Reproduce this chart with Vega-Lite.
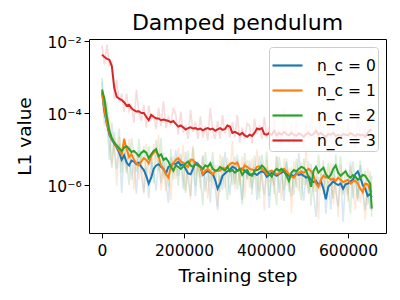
{
"$schema": "https://vega.github.io/schema/vega-lite/v6.json",
"width": 297, "height": 194,
"autosize": "none",
"padding": {"left": 89, "top": 39, "right": 14, "bottom": 67},
"config": {"font": "DejaVu Sans", "view": {"stroke": "black", "strokeWidth": 1}},
"title": {"text": "Damped pendulum", "fontSize": 22, "fontWeight": "normal", "color": "black", "offset": 1},
"datasets": {"rows": [
{"x":0,"s0":3.8e-4,"s1":4.0e-4,"s2":4.5e-4,"s3":4.2e-3,"r0":9.5e-4,"r1":1.2e-4,"r2":7.2e-4,"r3":7.6e-3},
{"x":6000,"s0":1.1e-4,"s1":1.26e-4,"s2":2.5e-4,"s3":3.6e-3,"r0":4.4e-5,"r1":2.5e-4,"r2":7.5e-5,"r3":2.2e-3},
{"x":12000,"s0":5.0e-5,"s1":5.2e-5,"s2":7.9e-5,"s3":3.2e-3,"r0":7.5e-5,"r1":3.1e-5,"r2":2.1e-4,"r3":8.0e-3},
{"x":18000,"s0":2.5e-5,"s1":2.8e-5,"s2":3.2e-5,"s3":3.0e-3,"r0":5.0e-6,"r1":8.4e-5,"r2":1.6e-5,"r3":2.1e-3},
{"x":24000,"s0":1.8e-5,"s1":1.9e-5,"s2":2.0e-5,"s3":2.0e-3,"r0":5.4e-5,"r1":3.8e-6,"r2":3.0e-6,"r3":2.6e-3},
{"x":30000,"s0":1.4e-5,"s1":1.5e-5,"s2":1.5e-5,"s3":5.0e-4,"r0":8.4e-6,"r1":2.1e-5,"r2":3.0e-5,"r3":2.5e-4},
{"x":36000,"s0":1.1e-5,"s1":1.2e-5,"s2":1.26e-5,"s3":2.8e-4,"r0":2.8e-6,"r1":9.6e-7,"r2":8.8e-6,"r3":8.4e-4},
{"x":42000,"s0":7.9e-6,"s1":8.9e-6,"s2":1.05e-5,"s3":2.5e-4,"r0":1.4e-5,"r1":2.2e-5,"r2":3.7e-5,"r3":2.0e-4},
{"x":48000,"s0":5.0e-6,"s1":7.1e-6,"s2":8.9e-6,"s3":2.3e-4,"r0":6.0e-7,"r1":3.6e-6,"r2":2.2e-6,"r3":3.5e-4},
{"x":54000,"s0":6.6e-6,"s1":1.9e-5,"s2":1.1e-5,"s3":2.0e-4,"r0":7.9e-6,"r1":2.1e-5,"r2":1.3e-5,"r3":1.1e-4},
{"x":60000,"s0":4.2e-6,"s1":1.0e-5,"s2":1.2e-5,"s3":1.6e-4,"r0":2.1e-6,"r1":2.5e-6,"r2":4.8e-6,"r3":3.5e-4},
{"x":66000,"s0":3.5e-6,"s1":6.0e-6,"s2":1.0e-5,"s3":1.7e-4,"r0":1.2e-5,"r1":1.9e-5,"r2":1.0e-6,"r3":1.1e-4},
{"x":72000,"s0":4.8e-6,"s1":7.1e-6,"s2":8.3e-6,"s3":1.35e-4,"r0":1.4e-6,"r1":5.0e-6,"r2":2.0e-5,"r3":1.6e-4},
{"x":78000,"s0":4.5e-6,"s1":5.0e-6,"s2":8.9e-6,"s3":1.2e-4,"r0":4.5e-6,"r1":7.5e-7,"r2":7.1e-6,"r3":5.4e-5},
{"x":84000,"s0":3.8e-6,"s1":4.0e-6,"s2":7.6e-6,"s3":1.1e-4,"r0":5.7e-7,"r1":8.0e-6,"r2":2.3e-6,"r3":4.4e-4},
{"x":90000,"s0":4.2e-6,"s1":3.5e-6,"s2":6.3e-6,"s3":1.12e-4,"r0":9.2e-6,"r1":1.4e-6,"r2":1.9e-5,"r3":1.0e-4},
{"x":96000,"s0":3.2e-6,"s1":4.5e-6,"s2":7.9e-6,"s3":1.0e-4,"r0":1.9e-6,"r1":6.8e-6,"r2":4.0e-6,"r3":6.0e-5},
{"x":102000,"s0":2.6e-6,"s1":5.6e-6,"s2":8.9e-6,"s3":1.0e-4,"r0":6.5e-7,"r1":5.6e-7,"r2":1.2e-5,"r3":1.7e-4},
{"x":108000,"s0":1.8e-6,"s1":5.0e-6,"s2":7.9e-6,"s3":7.9e-5,"r0":2.9e-6,"r1":1.4e-5,"r2":1.6e-6,"r3":4.0e-5},
{"x":114000,"s0":1.1e-6,"s1":4.0e-6,"s2":5.6e-6,"s3":6.3e-5,"r0":4.4e-7,"r1":2.4e-6,"r2":1.2e-5,"r3":1.6e-4},
{"x":120000,"s0":1.6e-6,"s1":6.3e-6,"s2":7.1e-6,"s3":8.9e-5,"r0":6.4e-6,"r1":1.9e-6,"r2":4.3e-6,"r3":6.7e-5},
{"x":126000,"s0":2.8e-6,"s1":7.9e-6,"s2":8.9e-6,"s3":7.9e-5,"r0":2.2e-6,"r1":1.4e-5,"r2":1.1e-6,"r3":8.7e-5},
{"x":132000,"s0":3.5e-6,"s1":8.9e-6,"s2":1.0e-5,"s3":7.1e-5,"r0":7.0e-7,"r1":4.0e-6,"r2":1.8e-5,"r3":3.6e-5},
{"x":138000,"s0":3.8e-6,"s1":6.3e-6,"s2":6.3e-6,"s3":7.1e-5,"r0":4.9e-6,"r1":2.5e-5,"r2":2.5e-6,"r3":1.4e-4},
{"x":144000,"s0":3.2e-6,"s1":3.5e-6,"s2":7.1e-6,"s3":6.3e-5,"r0":1.1e-6,"r1":7.0e-7,"r2":2.0e-5,"r3":4.4e-5},
{"x":150000,"s0":2.8e-6,"s1":2.8e-6,"s2":5.0e-6,"s3":6.6e-5,"r0":7.8e-6,"r1":3.4e-6,"r2":1.5e-6,"r3":2.1e-4},
{"x":156000,"s0":2.1e-6,"s1":2.0e-6,"s2":5.6e-6,"s3":6.3e-5,"r0":1.05e-6,"r1":7.0e-7,"r2":5.6e-6,"r3":3.8e-5},
{"x":162000,"s0":3.2e-6,"s1":1.6e-6,"s2":4.5e-6,"s3":6.0e-5,"r0":3.2e-7,"r1":3.8e-6,"r2":9.0e-7,"r3":8.4e-5},
{"x":168000,"s0":3.5e-6,"s1":3.2e-6,"s2":3.2e-6,"s3":5.6e-5,"r0":6.0e-6,"r1":3.8e-7,"r2":1.0e-5,"r3":4.5e-5},
{"x":174000,"s0":4.0e-6,"s1":4.0e-6,"s2":2.5e-6,"s3":6.0e-5,"r0":2.8e-6,"r1":6.4e-6,"r2":1.4e-6,"r3":1.4e-4},
{"x":180000,"s0":3.8e-6,"s1":5.0e-6,"s2":3.5e-6,"s3":5.0e-5,"r0":9.5e-6,"r1":1.5e-6,"r2":5.6e-6,"r3":9.0e-5},
{"x":186000,"s0":4.4e-6,"s1":5.6e-6,"s2":3.2e-6,"s3":4.2e-5,"r0":1.8e-6,"r1":1.1e-5,"r2":9.6e-7,"r3":2.5e-5},
{"x":192000,"s0":3.5e-6,"s1":4.5e-6,"s2":2.8e-6,"s3":4.5e-5,"r0":5.3e-6,"r1":2.7e-6,"r2":7.3e-6,"r3":1.1e-4},
{"x":198000,"s0":3.8e-6,"s1":4.2e-6,"s2":3.2e-6,"s3":4.0e-5,"r0":7.6e-7,"r1":1.3e-5,"r2":1.6e-6,"r3":2.8e-5},
{"x":204000,"s0":2.8e-6,"s1":3.5e-6,"s2":4.0e-6,"s3":3.5e-5,"r0":8.4e-6,"r1":7.0e-7,"r2":6.0e-7,"r3":4.6e-5},
{"x":210000,"s0":2.1e-6,"s1":3.2e-6,"s2":4.5e-6,"s3":3.8e-5,"r0":1.3e-6,"r1":4.5e-6,"r2":9.0e-6,"r3":1.9e-5},
{"x":216000,"s0":2.0e-6,"s1":5.0e-6,"s2":3.5e-6,"s3":4.0e-5,"r0":5.0e-7,"r1":4.0e-7,"r2":2.5e-6,"r3":1.2e-4},
{"x":222000,"s0":2.8e-6,"s1":5.0e-6,"s2":3.2e-6,"s3":3.7e-5,"r0":5.0e-6,"r1":1.25e-5,"r2":1.1e-5,"r3":3.0e-5},
{"x":228000,"s0":4.2e-6,"s1":3.8e-6,"s2":3.8e-6,"s3":3.8e-5,"r0":5.0e-7,"r1":1.9e-6,"r2":9.5e-7,"r3":5.7e-5},
{"x":234000,"s0":3.8e-6,"s1":3.5e-6,"s2":3.5e-6,"s3":3.5e-5,"r0":4.6e-6,"r1":3.9e-6,"r2":4.2e-6,"r3":1.9e-5},
{"x":240000,"s0":3.2e-6,"s1":3.2e-6,"s2":3.2e-6,"s3":3.7e-5,"r0":1.6e-6,"r1":8.0e-7,"r2":1.3e-6,"r3":8.1e-5},
{"x":246000,"s0":1.9e-6,"s1":2.0e-6,"s2":2.8e-6,"s3":3.3e-5,"r0":6.7e-6,"r1":6.4e-6,"r2":2.8e-7,"r3":2.1e-5},
{"x":252000,"s0":2.2e-6,"s1":2.5e-6,"s2":3.5e-6,"s3":3.6e-5,"r0":6.6e-7,"r1":1.75e-6,"r2":8.4e-6,"r3":4.3e-5},
{"x":258000,"s0":2.5e-6,"s1":2.8e-6,"s2":3.2e-6,"s3":3.8e-5,"r0":2.5e-6,"r1":4.2e-7,"r2":2.6e-6,"r3":1.7e-5},
{"x":264000,"s0":2.2e-6,"s1":2.4e-6,"s2":4.0e-6,"s3":3.5e-5,"r0":3.3e-7,"r1":4.8e-6,"r2":1.2e-6,"r3":1.4e-4},
{"x":270000,"s0":2.0e-6,"s1":2.0e-6,"s2":2.8e-6,"s3":3.7e-5,"r0":4.4e-6,"r1":8.0e-7,"r2":8.4e-6,"r3":3.3e-5},
{"x":276000,"s0":1.4e-6,"s1":2.4e-6,"s2":2.5e-6,"s3":3.2e-5,"r0":8.4e-7,"r1":3.6e-6,"r2":1.25e-6,"r3":1.9e-5},
{"x":282000,"s0":7.9e-7,"s1":2.5e-6,"s2":2.6e-6,"s3":3.5e-5,"r0":2.0e-7,"r1":2.5e-7,"r2":3.6e-6,"r3":6.0e-5},
{"x":288000,"s0":1.1e-6,"s1":2.5e-6,"s2":3.2e-6,"s3":3.8e-5,"r0":1.8e-6,"r1":7.0e-6,"r2":6.4e-7,"r3":1.9e-5},
{"x":294000,"s0":1.8e-6,"s1":3.0e-6,"s2":2.8e-6,"s3":3.4e-5,"r0":7.2e-7,"r1":1.8e-6,"r2":6.2e-6,"r3":8.8e-5},
{"x":300000,"s0":2.1e-6,"s1":2.8e-6,"s2":2.5e-6,"s3":3.6e-5,"r0":8.4e-6,"r1":8.4e-7,"r2":1.5e-6,"r3":2.7e-5},
{"x":306000,"s0":2.4e-6,"s1":3.2e-6,"s2":3.2e-6,"s3":4.5e-5,"r0":1.9e-6,"r1":5.8e-6,"r2":3.8e-7,"r3":5.0e-5},
{"x":312000,"s0":2.6e-6,"s1":3.8e-6,"s2":2.4e-6,"s3":4.2e-5,"r0":5.2e-7,"r1":1.7e-6,"r2":4.3e-6,"r3":2.1e-5},
{"x":318000,"s0":3.2e-6,"s1":4.2e-6,"s2":2.6e-6,"s3":2.8e-5,"r0":4.2e-6,"r1":1.7e-5,"r2":1.0e-6,"r3":5.6e-5},
{"x":324000,"s0":3.0e-6,"s1":3.8e-6,"s2":2.2e-6,"s3":3.0e-5,"r0":1.05e-6,"r1":7.6e-7,"r2":6.2e-6,"r3":2.1e-5},
{"x":330000,"s0":2.5e-6,"s1":4.2e-6,"s2":2.5e-6,"s3":2.75e-5,"r0":7.0e-6,"r1":5.0e-6,"r2":7.5e-7,"r3":8.8e-5},
{"x":336000,"s0":2.7e-6,"s1":2.8e-6,"s2":2.8e-6,"s3":2.5e-5,"r0":1.35e-6,"r1":9.8e-7,"r2":2.8e-6,"r3":1.5e-5},
{"x":342000,"s0":2.9e-6,"s1":2.6e-6,"s2":1.9e-6,"s3":2.8e-5,"r0":2.9e-7,"r1":6.2e-6,"r2":3.8e-7,"r3":3.9e-5},
{"x":348000,"s0":2.5e-6,"s1":3.5e-6,"s2":2.4e-6,"s3":2.4e-5,"r0":4.3e-6,"r1":4.2e-7,"r2":7.7e-6,"r3":1.9e-5},
{"x":354000,"s0":2.2e-6,"s1":3.2e-6,"s2":2.6e-6,"s3":2.2e-5,"r0":1.5e-6,"r1":5.1e-6,"r2":1.4e-6,"r3":5.1e-5},
{"x":360000,"s0":1.9e-6,"s1":2.8e-6,"s2":2.0e-6,"s3":2.5e-5,"r0":4.8e-6,"r1":8.4e-7,"r2":3.2e-6,"r3":4.5e-5},
{"x":366000,"s0":2.0e-6,"s1":2.7e-6,"s2":1.8e-6,"s3":2.3e-5,"r0":8.0e-7,"r1":5.4e-6,"r2":5.4e-7,"r3":1.4e-5},
{"x":372000,"s0":2.1e-6,"s1":2.5e-6,"s2":2.5e-6,"s3":2.8e-5,"r0":3.2e-6,"r1":1.5e-6,"r2":6.5e-6,"r3":7.0e-5},
{"x":378000,"s0":1.9e-6,"s1":3.2e-6,"s2":2.6e-6,"s3":3.7e-5,"r0":3.8e-7,"r1":9.6e-6,"r2":1.3e-6,"r3":2.6e-5},
{"x":384000,"s0":2.2e-6,"s1":3.3e-6,"s2":2.8e-6,"s3":3.5e-5,"r0":6.6e-6,"r1":6.6e-7,"r2":4.2e-7,"r3":4.6e-5},
{"x":390000,"s0":2.4e-6,"s1":2.8e-6,"s2":3.5e-6,"s3":3.8e-5,"r0":1.4e-6,"r1":3.9e-6,"r2":7.0e-6,"r3":1.9e-5},
{"x":396000,"s0":2.2e-6,"s1":2.5e-6,"s2":3.0e-6,"s3":2.6e-5,"r0":5.5e-7,"r1":2.0e-7,"r2":2.1e-6,"r3":7.8e-5},
{"x":402000,"s0":1.7e-6,"s1":2.0e-6,"s2":2.4e-6,"s3":2.5e-5,"r0":3.1e-6,"r1":5.0e-6,"r2":8.4e-6,"r3":2.0e-5},
{"x":408000,"s0":1.9e-6,"s1":2.4e-6,"s2":2.0e-6,"s3":2.8e-5,"r0":2.3e-7,"r1":1.2e-6,"r2":5.0e-7,"r3":4.2e-5},
{"x":414000,"s0":2.2e-6,"s1":2.5e-6,"s2":1.7e-6,"s3":2.5e-5,"r0":2.6e-6,"r1":2.75e-6,"r2":2.0e-6,"r3":1.4e-5},
{"x":420000,"s0":2.0e-6,"s1":2.2e-6,"s2":2.4e-6,"s3":3.2e-5,"r0":1.0e-6,"r1":5.5e-7,"r2":9.6e-7,"r3":7.0e-5},
{"x":426000,"s0":1.8e-6,"s1":2.0e-6,"s2":2.8e-6,"s3":2.4e-5,"r0":6.3e-6,"r1":6.4e-6,"r2":2.8e-7,"r3":1.6e-5},
{"x":432000,"s0":2.0e-6,"s1":2.1e-6,"s2":2.5e-6,"s3":2.8e-5,"r0":6.0e-7,"r1":1.5e-6,"r2":6.0e-6,"r3":3.4e-5},
{"x":438000,"s0":2.2e-6,"s1":2.5e-6,"s2":2.8e-6,"s3":2.5e-5,"r0":2.2e-6,"r1":3.8e-7,"r2":2.2e-6,"r3":1.1e-5},
{"x":444000,"s0":2.4e-6,"s1":2.8e-6,"s2":2.4e-6,"s3":3.0e-5,"r0":3.6e-7,"r1":5.6e-6,"r2":7.2e-7,"r3":1.2e-4},
{"x":450000,"s0":2.0e-6,"s1":2.4e-6,"s2":1.8e-6,"s3":2.6e-5,"r0":4.4e-6,"r1":9.6e-7,"r2":5.4e-6,"r3":2.3e-5},
{"x":456000,"s0":1.8e-6,"s1":2.0e-6,"s2":1.3e-6,"s3":2.4e-5,"r0":1.1e-6,"r1":3.0e-6,"r2":6.5e-7,"r3":1.4e-5},
{"x":462000,"s0":1.9e-6,"s1":1.7e-6,"s2":2.2e-6,"s3":2.8e-5,"r0":4.8e-7,"r1":1.7e-7,"r2":3.1e-6,"r3":4.8e-5},
{"x":468000,"s0":1.7e-6,"s1":1.6e-6,"s2":2.6e-6,"s3":2.5e-5,"r0":2.7e-6,"r1":4.5e-6,"r2":5.2e-7,"r3":1.25e-5},
{"x":474000,"s0":2.1e-6,"s1":2.0e-6,"s2":2.4e-6,"s3":2.3e-5,"r0":8.4e-7,"r1":1.2e-6,"r2":5.3e-6,"r3":6.0e-5},
{"x":480000,"s0":1.9e-6,"s1":2.2e-6,"s2":2.8e-6,"s3":2.75e-5,"r0":7.6e-6,"r1":6.6e-7,"r2":1.7e-6,"r3":2.1e-5},
{"x":486000,"s0":2.0e-6,"s1":2.4e-6,"s2":3.2e-6,"s3":2.5e-5,"r0":1.6e-6,"r1":4.3e-6,"r2":3.8e-7,"r3":2.75e-5},
{"x":492000,"s0":1.8e-6,"s1":2.2e-6,"s2":3.0e-6,"s3":2.2e-5,"r0":3.6e-7,"r1":1.0e-6,"r2":5.4e-6,"r3":1.1e-5},
{"x":498000,"s0":1.6e-6,"s1":2.5e-6,"s2":2.5e-6,"s3":2.6e-5,"r0":2.1e-6,"r1":1.0e-5,"r2":1.0e-6,"r3":5.2e-5},
{"x":504000,"s0":1.7e-6,"s1":2.8e-6,"s2":1.6e-6,"s3":2.8e-5,"r0":6.0e-7,"r1":5.6e-7,"r2":4.5e-6,"r3":2.0e-5},
{"x":510000,"s0":1.4e-6,"s1":2.4e-6,"s2":8.9e-7,"s3":2.4e-5,"r0":3.9e-6,"r1":2.9e-6,"r2":2.7e-7,"r3":7.7e-5},
{"x":516000,"s0":1.2e-6,"s1":1.8e-6,"s2":2.5e-6,"s3":2.6e-5,"r0":6.0e-7,"r1":6.3e-7,"r2":2.5e-6,"r3":1.6e-5},
{"x":522000,"s0":1.3e-6,"s1":1.1e-6,"s2":3.2e-6,"s3":3.2e-5,"r0":1.3e-7,"r1":2.6e-6,"r2":6.4e-7,"r3":4.5e-5},
{"x":528000,"s0":1.0e-6,"s1":8.9e-7,"s2":2.2e-6,"s3":2.5e-5,"r0":1.7e-6,"r1":1.1e-7,"r2":7.0e-6,"r3":2.0e-5},
{"x":534000,"s0":1.26e-6,"s1":1.4e-6,"s2":2.6e-6,"s3":2.8e-5,"r0":8.8e-7,"r1":2.2e-6,"r2":1.4e-6,"r3":6.4e-5},
{"x":540000,"s0":7.9e-7,"s1":1.8e-6,"s2":3.0e-6,"s3":2.4e-5,"r0":2.0e-6,"r1":5.4e-7,"r2":4.8e-6,"r3":4.3e-5},
{"x":546000,"s0":4.0e-7,"s1":1.6e-6,"s2":2.0e-6,"s3":2.2e-5,"r0":1.6e-7,"r1":3.2e-6,"r2":6.0e-7,"r3":1.3e-5},
{"x":552000,"s0":8.9e-7,"s1":1.7e-6,"s2":1.6e-6,"s3":2.6e-5,"r0":1.3e-6,"r1":1.0e-6,"r2":4.2e-6,"r3":6.5e-5},
{"x":558000,"s0":1.05e-6,"s1":1.4e-6,"s2":1.9e-6,"s3":2.5e-5,"r0":2.1e-7,"r1":4.2e-6,"r2":9.5e-7,"r3":1.75e-5},
{"x":564000,"s0":1.26e-6,"s1":1.5e-6,"s2":2.8e-6,"s3":2.8e-5,"r0":3.8e-6,"r1":3.0e-7,"r2":4.2e-7,"r3":3.6e-5},
{"x":570000,"s0":1.1e-6,"s1":1.3e-6,"s2":3.5e-6,"s3":2.3e-5,"r0":6.6e-7,"r1":1.8e-6,"r2":7.0e-6,"r3":1.15e-5},
{"x":576000,"s0":1.0e-6,"s1":1.6e-6,"s2":2.2e-6,"s3":2.5e-5,"r0":2.5e-7,"r1":1.3e-7,"r2":1.5e-6,"r3":7.5e-5},
{"x":582000,"s0":1.1e-6,"s1":1.4e-6,"s2":1.8e-6,"s3":2.2e-5,"r0":2.0e-6,"r1":3.5e-6,"r2":6.3e-6,"r3":1.8e-5},
{"x":588000,"s0":7.9e-7,"s1":1.2e-6,"s2":2.1e-6,"s3":2.6e-5,"r0":9.5e-8,"r1":6.0e-7,"r2":5.2e-7,"r3":3.9e-5},
{"x":594000,"s0":1.05e-6,"s1":1.3e-6,"s2":2.4e-6,"s3":2.5e-5,"r0":1.3e-6,"r1":1.4e-6,"r2":2.9e-6,"r3":1.4e-5},
{"x":600000,"s0":1.1e-6,"s1":1.4e-6,"s2":1.8e-6,"s3":2.4e-5,"r0":5.5e-7,"r1":3.5e-7,"r2":7.2e-7,"r3":5.3e-5},
{"x":606000,"s0":1.26e-6,"s1":1.1e-6,"s2":1.6e-6,"s3":2.75e-5,"r0":4.4e-6,"r1":3.5e-6,"r2":1.6e-7,"r3":1.8e-5},
{"x":612000,"s0":1.4e-6,"s1":1.26e-6,"s2":1.9e-6,"s3":2.5e-5,"r0":4.2e-7,"r1":8.8e-7,"r2":4.6e-6,"r3":3.0e-5},
{"x":618000,"s0":2.0e-6,"s1":1.3e-6,"s2":1.7e-6,"s3":2.3e-5,"r0":2.0e-6,"r1":2.0e-7,"r2":1.4e-6,"r3":1.0e-5},
{"x":624000,"s0":2.4e-6,"s1":1.1e-6,"s2":1.4e-6,"s3":2.6e-5,"r0":3.6e-7,"r1":2.2e-6,"r2":4.2e-7,"r3":1.0e-4},
{"x":630000,"s0":1.6e-6,"s1":7.9e-7,"s2":1.6e-6,"s3":2.4e-5,"r0":3.5e-6,"r1":3.2e-7,"r2":4.8e-6,"r3":2.2e-5},
{"x":636000,"s0":1.0e-6,"s1":6.3e-7,"s2":1.9e-6,"s3":2.5e-5,"r0":6.0e-7,"r1":9.5e-7,"r2":9.5e-7,"r3":1.5e-5},
{"x":642000,"s0":7.9e-7,"s1":1.1e-6,"s2":1.8e-6,"s3":2.2e-5,"r0":2.0e-7,"r1":1.1e-7,"r2":2.5e-6,"r3":3.7e-5},
{"x":648000,"s0":5.0e-7,"s1":1.05e-6,"s2":1.4e-6,"s3":2.8e-5,"r0":8.0e-7,"r1":2.9e-6,"r2":2.8e-7,"r3":1.4e-5},
{"x":654000,"s0":5.6e-7,"s1":7.1e-7,"s2":1.1e-6,"s3":3.3e-5,"r0":2.2e-7,"r1":4.3e-7,"r2":2.4e-6,"r3":8.6e-5},
{"x":658000,"s0":4.5e-7,"s1":6.3e-7,"s2":2.2e-7,"s3":3.5e-5,"r0":1.8e-6,"r1":1.9e-7,"r2":1.3e-7,"r3":2.6e-5}
]},
"data": {"name": "rows"},
"encoding": {
  "x": {"field": "x", "type": "quantitative",
        "scale": {"domain": [-31700, 692700], "nice": false, "zero": false},
        "axis": {"title": "Training step", "values": [0, 200000, 400000, 600000], "format": "d",
                 "grid": false, "domain": false, "tickColor": "black", "tickSize": 4.9, "tickWidth": 1,
                 "labelFontSize": 15.5, "labelColor": "black", "labelPadding": 5.5, "labelFont": "DejaVu Sans",
                 "titleFontSize": 18.5, "titleFontWeight": "normal", "titleColor": "black", "titleFont": "DejaVu Sans",
                 "titleBaseline": "alphabetic", "titleY": 48}},
  "y": {"field": "value", "type": "quantitative",
        "scale": {"type": "log", "domain": [4.64e-8, 1.14e-2], "nice": false},
        "axis": {"title": "L1 value", "values": [1e-6, 1e-4, 1e-2],
                 "labelExpr": "datum.value < 1e-5 ? '10⁻⁶' : datum.value < 1e-3 ? '10⁻⁴' : '10⁻²'",
                 "grid": false, "domain": false, "tickColor": "black", "tickSize": 4.9, "tickWidth": 1,
                 "labelFontSize": 15.5, "labelColor": "black", "labelPadding": 3, "labelFont": "DejaVu Sans",
                 "labelOffset": 1.5,
                 "titleFontSize": 18.5, "titleFontWeight": "normal", "titleColor": "black", "titleFont": "DejaVu Sans",
                 "titleBaseline": "alphabetic", "titleX": -59, "titleY": 97, "titleAngle": -90}}
},
"layer": [
  {"transform": [{"fold": ["r0", "r1", "r2", "r3"], "as": ["series", "value"]}],
   "mark": {"type": "line", "strokeWidth": 1.6, "opacity": 0.17, "clip": true},
   "encoding": {"color": {"field": "series", "type": "nominal",
      "scale": {"domain": ["r0", "r1", "r2", "r3"], "range": ["#1f77b4", "#ff7f0e", "#2ca02c", "#d62728"]},
      "legend": null}}},
  {"transform": [{"fold": ["s0", "s1", "s2", "s3"], "as": ["series", "value"]}],
   "mark": {"type": "line", "strokeWidth": 2, "clip": true},
   "encoding": {"color": {"field": "series", "type": "nominal",
      "scale": {"domain": ["s0", "s1", "s2", "s3"], "range": ["#1f77b4", "#ff7f0e", "#2ca02c", "#d62728"]},
      "legend": {"title": null, "orient": "top-right", "offset": 8,
                 "labelExpr": "'n_c = ' + slice(datum.label, 1)",
                 "labelFontSize": 15.5, "labelColor": "black", "labelFont": "DejaVu Sans", "labelOffset": 13,
                 "symbolType": "stroke", "symbolSize": 900, "symbolStrokeWidth": 2.2,
                 "rowPadding": -2, "padding": 2,
                 "fillColor": "rgba(255,255,255,0.8)", "strokeColor": "#cccccc", "cornerRadius": 3}}}}
],
"resolve": {"scale": {"color": "independent"}}
}
